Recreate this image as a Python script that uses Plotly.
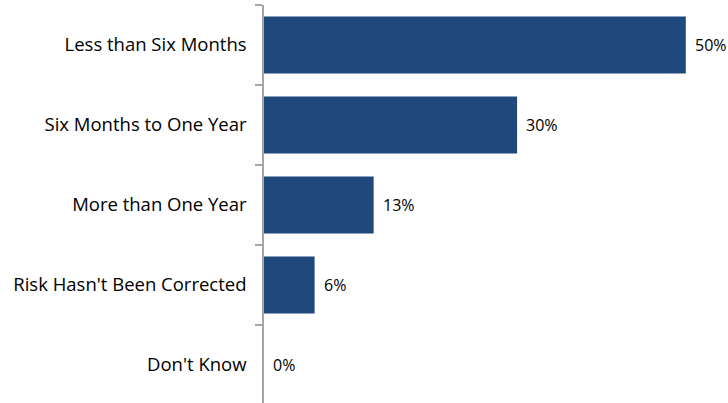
import plotly.graph_objects as go

categories = [
    "Less than Six Months",
    "Six Months to One Year",
    "More than One Year",
    "Risk Hasn't Been Corrected",
    "Don't Know",
]
values = [50, 30, 13, 6, 0]
labels = ["50%", "30%", "13%", "6%", "0%"]

bar_color = "#1F497D"
font_family = "'Open Sans', sans-serif"

fig = go.Figure(
    go.Bar(
        x=values,
        y=categories,
        orientation="h",
        marker=dict(color=bar_color, line=dict(width=0)),
        hoverinfo="skip",
    )
)

# value labels placed just past the end of each bar
for cat, val, lab in zip(categories, values, labels):
    fig.add_annotation(
        x=val, y=cat, text=lab, showarrow=False,
        xanchor="left", xshift=7,
        font=dict(family=font_family, size=16, color="#000000"),
    )

fig.update_layout(
    width=728,
    height=403,
    margin=dict(l=264, r=0, t=5, b=0),
    paper_bgcolor="white",
    plot_bgcolor="white",
    bargap=0.29,
    showlegend=False,
    xaxis=dict(visible=False, range=[0, 55]),
    yaxis=dict(
        type="category",
        range=[4.475, -0.5],
        showline=True,
        linecolor="#A6A6A6",
        linewidth=1.5,
        ticks="outside",
        tickson="boundaries",
        ticklen=7,
        tickcolor="#A6A6A6",
        tickwidth=1.5,
        ticklabelstandoff=12,
        showgrid=False,
        tickfont=dict(family=font_family, size=18.5, color="#000000"),
    ),
)

fig.write_html("out.html")
